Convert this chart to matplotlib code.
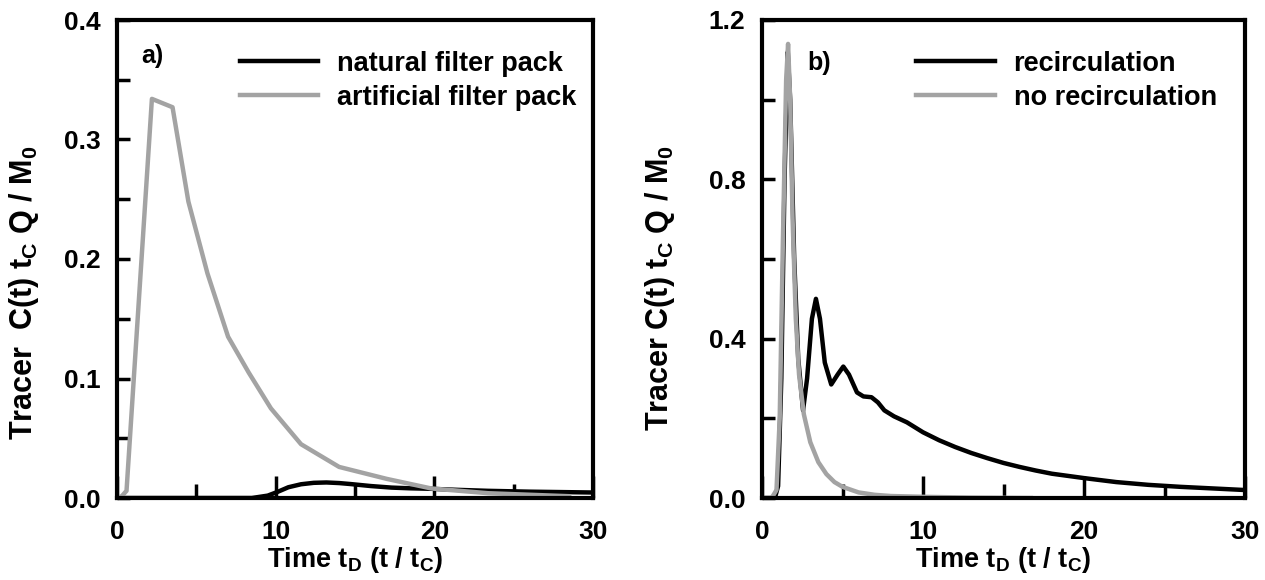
import matplotlib
matplotlib.use("Agg")
import matplotlib.pyplot as plt
from matplotlib.ticker import MultipleLocator

plt.rcParams['font.family'] = ['Liberation Sans', 'DejaVu Sans']
plt.rcParams['font.weight'] = 'bold'

# Panel a) data
art_t = [0.0, 0.3, 0.6, 2.2, 3.5, 4.5, 5.7, 7.0, 8.3, 9.7, 11.6, 14.0, 17.0, 19.8, 23.4, 28.5]
art_c = [0.0, 0.0015, 0.006, 0.334, 0.327, 0.248, 0.188, 0.135, 0.105, 0.075, 0.045, 0.026, 0.016, 0.008, 0.004, 0.0015]
nat_t = [0.0, 8.5, 9.5, 10.1, 10.8, 11.6, 12.4, 13.2, 14.0, 14.7, 16.0, 17.3, 18.5, 19.8, 21.5, 23.4, 26.0, 30.0]
nat_c = [0.0, 0.0, 0.002, 0.005, 0.009, 0.0115, 0.0127, 0.013, 0.0125, 0.0117, 0.010, 0.0087, 0.0081, 0.0077, 0.0068, 0.006, 0.0053, 0.0046]

# Panel b) data
rec_t = [0.0, 0.8, 1.0, 1.2, 1.4, 1.6, 1.75, 2.0, 2.25, 2.55, 2.8, 3.1, 3.35, 3.6, 3.9, 4.3, 4.7, 5.05,
         5.4, 5.9, 6.3, 6.8, 7.2, 7.6, 8.2, 9.0, 10, 11, 12, 13, 14, 15, 16, 17, 18, 20, 22, 24, 26, 28, 30]
rec_c = [0.0, 0.0, 0.03, 0.3, 0.8, 1.12, 1.0, 0.6, 0.35, 0.22, 0.3, 0.45, 0.5, 0.45, 0.34, 0.285, 0.31, 0.33,
         0.31, 0.265, 0.255, 0.253, 0.24, 0.22, 0.205, 0.19, 0.165, 0.145, 0.128, 0.113, 0.1, 0.088, 0.078,
         0.069, 0.061, 0.05, 0.04, 0.033, 0.028, 0.024, 0.02]
norec_t = [0.0, 0.6, 0.9, 1.1, 1.3, 1.5, 1.62, 1.75, 1.9, 2.1, 2.3, 2.6, 3.0, 3.5, 4.0, 4.5, 5.0, 6.0, 7.0, 8.0, 10.0, 13.0, 16.7]
norec_c = [0.0, 0.0, 0.02, 0.2, 0.65, 1.05, 1.14, 1.0, 0.7, 0.45, 0.31, 0.21, 0.14, 0.09, 0.06, 0.04, 0.028, 0.014, 0.008, 0.005, 0.003, 0.001, 0.0]

BLACK = '#000000'
GRAY = '#a3a3a3'
LW = 3.2

W, H = 1265, 580
fig = plt.figure(figsize=(W / 100, H / 100), dpi=100)
ax1 = fig.add_axes([117 / W, 1 - 498 / H, (593 - 117) / W, (498 - 20) / H])
ax2 = fig.add_axes([762 / W, 1 - 498 / H, (1245 - 762) / W, (498 - 20) / H])

ylabel = r'Tracer  C(t) t$_\mathregular{C}$ Q / M$_\mathregular{0}$'
xlabel = r'Time t$_\mathregular{D}$ (t / t$_\mathregular{C}$)'

def style(ax, ymax, ymajor, yminor):
    ax.set_xlim(0, 30)
    ax.set_ylim(0, ymax)
    ax.xaxis.set_major_locator(MultipleLocator(10))
    ax.xaxis.set_minor_locator(MultipleLocator(5))
    ax.yaxis.set_major_locator(MultipleLocator(ymajor))
    ax.yaxis.set_minor_locator(MultipleLocator(yminor))
    ax.tick_params(axis='both', which='both', direction='in', top=False, right=False,
                   width=2.5, labelsize=19)
    ax.tick_params(axis='x', which='both', pad=16)
    ax.tick_params(axis='y', which='both', pad=12)
    ax.tick_params(axis='x', which='major', length=16)
    ax.tick_params(axis='x', which='minor', length=10)
    ax.tick_params(axis='y', which='both', length=9)
    for s in ax.spines.values():
        s.set_linewidth(3)
    for lab in ax.get_xticklabels() + ax.get_yticklabels():
        lab.set_fontweight('bold')
    ax.set_xlabel(xlabel, fontsize=19.5, fontweight='bold')
    ax.xaxis.set_label_coords(0.5, -0.098)

ax1.plot(nat_t, nat_c, color=BLACK, lw=LW, label='natural filter pack')
ax1.plot(art_t, art_c, color=GRAY, lw=LW, label='artificial filter pack')
style(ax1, 0.4, 0.1, 0.05)
ax1.yaxis.set_major_formatter(plt.FormatStrFormatter('%.1f'))
ax1.set_ylabel(ylabel, fontsize=22, fontweight='bold')
ax1.yaxis.set_label_coords(-0.16, 0.43)
ax1.text(0.05, 0.925, 'a)', transform=ax1.transAxes, fontsize=18, fontweight='bold', va='center')
ax1.legend(loc='upper right', frameon=False, fontsize=19.5, handlelength=2.9,
           handletextpad=0.7, borderaxespad=0.2, labelspacing=0.3, bbox_to_anchor=(1.0, 0.97))

ax2.plot(rec_t, rec_c, color=BLACK, lw=LW, label='recirculation')
ax2.plot(norec_t, norec_c, color=GRAY, lw=LW, label='no recirculation')
style(ax2, 1.2, 0.4, 0.2)
ax2.yaxis.set_major_formatter(plt.FormatStrFormatter('%.1f'))
ax2.set_ylabel(ylabel.replace('  ', ' '), fontsize=22, fontweight='bold')
ax2.yaxis.set_label_coords(-0.175, 0.44)
ax2.text(0.093, 0.91, 'b)', transform=ax2.transAxes, fontsize=18, fontweight='bold', va='center')
ax2.legend(loc='upper right', frameon=False, fontsize=19.5, handlelength=2.9,
           handletextpad=0.7, borderaxespad=0.2, labelspacing=0.3, bbox_to_anchor=(0.975, 0.97))

fig.savefig('out.png', dpi=100)
